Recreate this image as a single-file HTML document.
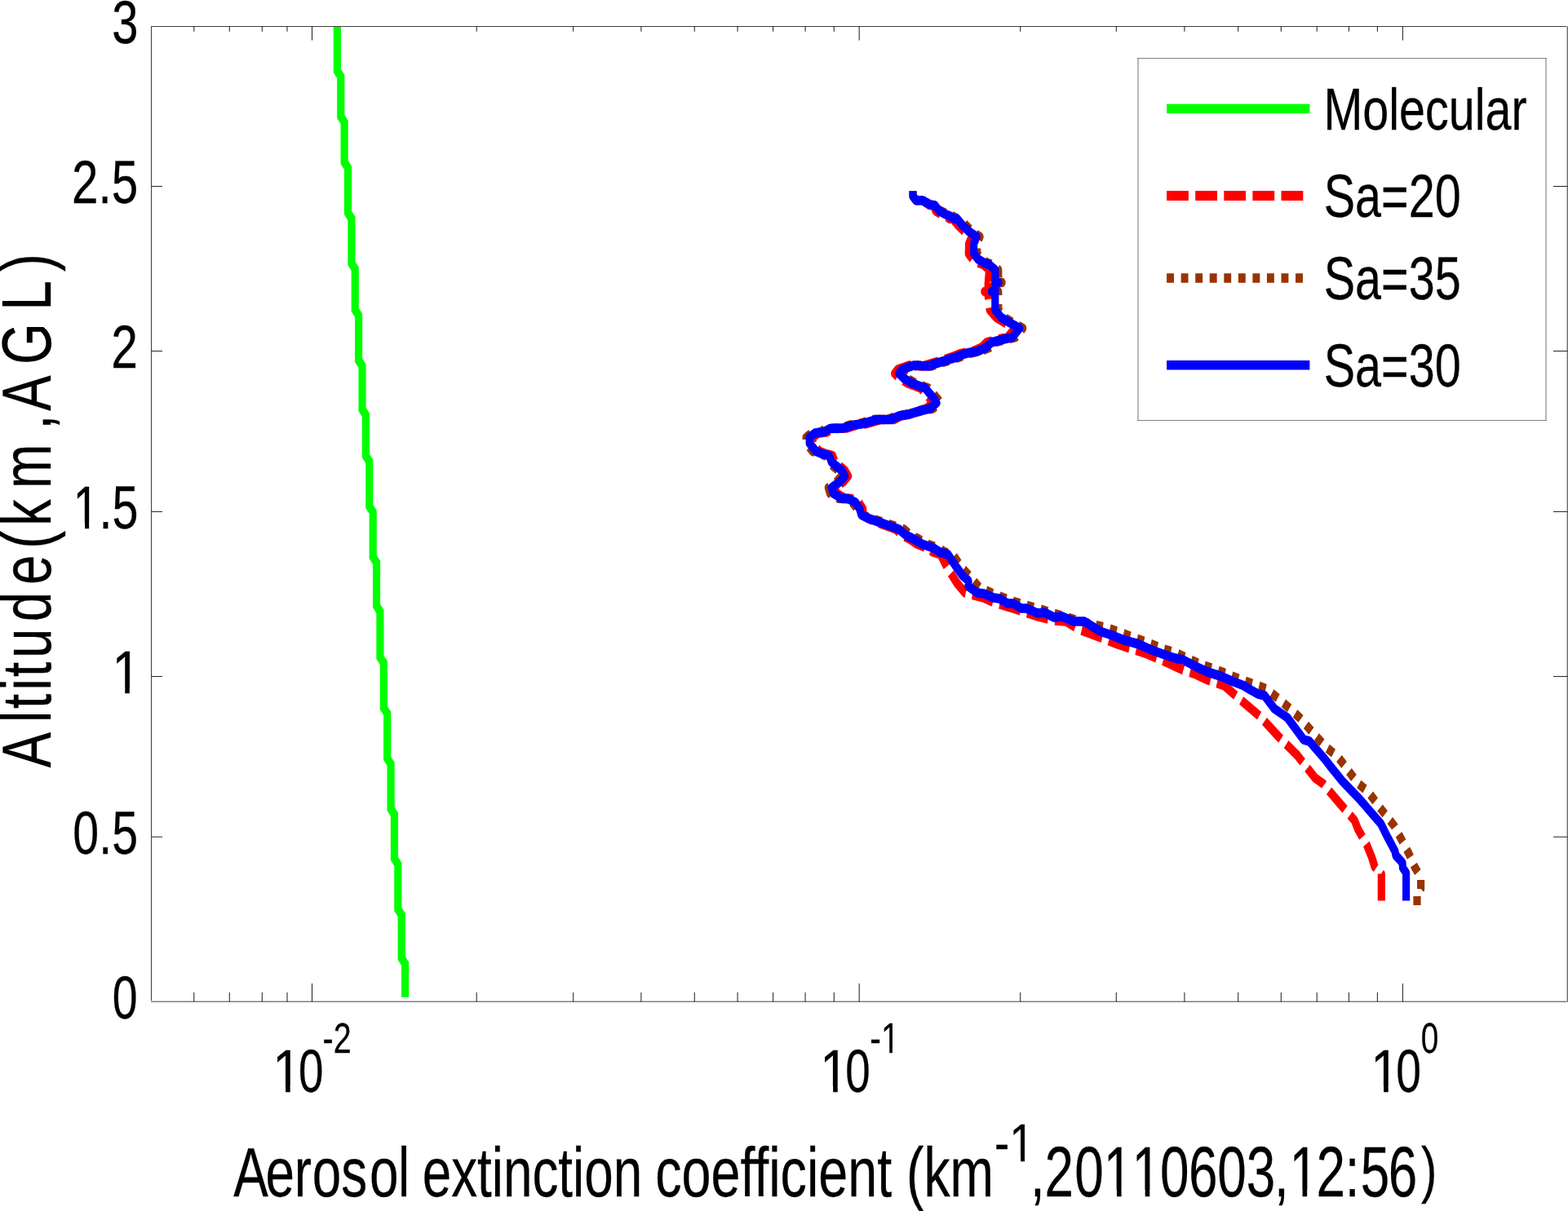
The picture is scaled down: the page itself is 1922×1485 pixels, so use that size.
<!DOCTYPE html>
<html><head><meta charset="utf-8"><title>Aerosol extinction coefficient profile</title>
<style>html,body{margin:0;padding:0;background:#fff;}svg{display:block;}</style>
</head><body>
<svg width="1922" height="1485" viewBox="0 0 1922 1485">
<rect x="0" y="0" width="1922" height="1485" fill="#ffffff"/>
<g fill="none" stroke-linejoin="round" stroke-linecap="butt">
<g transform="scale(0.79,1)" stroke-width="11.6">
<path d="M523.23,32.00 L523.23,87.00 L528.77,93.90 L528.77,143.00 L534.32,149.90 L534.32,199.00 L539.86,205.90 L539.86,261.00 L545.41,267.90 L545.41,323.00 L550.95,329.90 L550.95,380.00 L556.49,386.90 L556.49,442.00 L562.04,448.90 L562.04,502.00 L567.58,508.90 L567.58,559.00 L573.13,565.90 L573.13,621.00 L578.67,627.90 L578.67,683.00 L584.22,689.90 L584.22,743.00 L589.76,749.90 L589.76,806.00 L595.30,812.90 L595.30,868.00 L600.85,874.90 L600.85,930.00 L606.39,936.90 L606.39,992.00 L611.94,998.90 L611.94,1053.00 L617.48,1059.90 L617.48,1115.00 L623.03,1121.90 L623.03,1175.00 L628.57,1181.90 L628.57,1222.80" stroke="#00ff00" stroke-linejoin="miter"/>
<path d="M2143.42,1104.60 L2143.42,1071.50 L2133.04,1063.10 L2128.99,1052.40 L2120.76,1036.20 L2107.09,1016.80 L2101.65,1006.00 L2083.92,989.90 L2067.59,974.80 L2052.53,960.80 L2040.51,954.00 L2012.66,926.00 L1983.54,903.00 L1955.70,879.00 L1920.25,855.00 L1900.00,841.00 L1874.68,834.00 L1855.70,827.00 L1836.71,822.00 L1815.19,814.00 L1777.22,801.00 L1753.16,795.00 L1734.18,790.00 L1715.19,784.00 L1694.94,778.00 L1674.68,772.00 L1654.43,762.00 L1635.44,761.00 L1611.39,756.00 L1587.34,750.00 L1568.35,745.00 L1543.04,739.00 L1526.58,733.00 L1497.47,727.00 L1484.81,715.00 L1469.62,696.00 L1459.49,680.00 L1447.59,677.00 L1438.73,672.00 L1422.28,667.00 L1411.14,661.00 L1399.24,656.00 L1390.00,649.00 L1372.91,644.00 L1357.41,639.40 L1346.31,635.40 L1339.08,631.30 L1338.99,624.20 L1332.53,616.20 L1321.01,611.60 L1310.89,611.10 L1298.10,605.10 L1295.44,598.00 L1308.23,590.90 L1315.95,583.80 L1310.89,576.80 L1295.44,566.70 L1291.65,558.60 L1281.39,556.60 L1271.27,553.50 L1261.01,543.40 L1261.01,536.40 L1269.87,531.00 L1282.66,530.00 L1292.91,525.50 L1313.42,525.00 L1329.11,521.20 L1344.30,519.50 L1365.82,514.50 L1387.34,514.50 L1398.10,510.00 L1411.39,508.00 L1424.05,504.00 L1437.66,501.00 L1446.77,494.00 L1444.19,490.00 L1428.85,476.00 L1408.53,470.00 L1395.81,464.00 L1388.15,458.00 L1393.15,453.00 L1410.82,448.00 L1432.35,449.00 L1456.33,443.00 L1476.53,438.00 L1489.15,434.00 L1499.25,432.00 L1509.37,431.00 L1523.24,426.00 L1530.76,420.00 L1547.18,416.50 L1563.60,413.50 L1574.50,402.50 L1557.71,395.00 L1545.74,389.30 L1535.62,379.90 L1533.16,362.90 L1533.16,357.50 L1527.59,357.50 L1533.16,357.50 L1533.16,346.40 L1538.61,346.40 L1533.16,346.40 L1535.07,330.90 L1525.53,324.30 L1518.51,322.40 L1509.07,317.70 L1502.86,311.10 L1503.31,298.80 L1507.80,290.40 L1496.65,284.00 L1486.80,276.50 L1478.63,268.30 L1473.82,268.30 L1467.61,265.00 L1459.85,262.50 L1452.19,258.70 L1448.09,251.80 L1441.49,251.20 L1431.65,245.80 L1421.52,245.80 L1416.46,240.50 L1416.46,234.30" stroke="#ff0000" stroke-dasharray="33.5 10.5"/>
<path d="M2198.73,1110.00 L2198.73,1097.00 L2204.56,1090.00 L2204.56,1076.00 L2194.94,1063.00 L2186.20,1047.00 L2174.68,1029.70 L2163.04,1012.50 L2142.66,992.00 L2123.54,971.50 L2106.33,960.00 L2091.14,944.00 L2075.95,928.00 L2056.96,916.00 L2035.44,897.00 L2017.72,881.00 L2000.00,868.00 L1982.28,856.00 L1965.82,845.00 L1945.57,839.00 L1924.05,833.00 L1905.06,827.00 L1883.54,820.00 L1863.29,815.00 L1844.30,808.00 L1822.78,800.00 L1801.27,795.00 L1781.01,788.00 L1759.49,782.00 L1739.24,776.00 L1717.72,770.00 L1696.20,766.00 L1677.22,762.00 L1655.70,757.00 L1634.18,752.00 L1613.92,747.00 L1591.14,742.00 L1569.62,737.00 L1537.97,727.00 L1518.99,720.00 L1506.33,708.00 L1491.14,695.00 L1478.48,680.00 L1465.82,677.00 L1455.70,672.00 L1437.97,667.00 L1425.32,661.00 L1412.66,656.00 L1402.53,649.00 L1384.42,644.00 L1366.17,639.40 L1350.56,635.40 L1338.46,631.30 L1330.53,624.20 L1322.41,616.20 L1310.89,611.60 L1300.76,611.10 L1287.97,605.10 L1285.32,598.00 L1298.10,590.90 L1305.82,583.80 L1300.76,576.80 L1285.32,566.70 L1281.52,558.60 L1271.27,556.60 L1261.14,553.50 L1250.89,543.40 L1250.89,536.40 L1259.75,531.00 L1272.53,530.00 L1282.78,525.50 L1303.29,525.00 L1318.99,521.20 L1334.18,519.50 L1355.70,514.50 L1377.22,514.50 L1391.56,510.00 L1408.44,508.00 L1428.27,504.00 L1447.26,501.00 L1458.23,494.00 L1455.70,490.00 L1440.51,476.00 L1420.25,470.00 L1407.59,464.00 L1400.00,458.00 L1405.06,453.00 L1422.78,448.00 L1444.30,449.00 L1468.35,443.00 L1488.61,438.00 L1501.27,434.00 L1511.39,432.00 L1521.52,431.00 L1535.44,426.00 L1543.04,420.00 L1559.49,416.50 L1575.95,413.50 L1586.96,402.50 L1570.25,395.00 L1558.35,389.30 L1549.11,379.90 L1549.11,362.90 L1549.11,357.50 L1543.54,357.50 L1549.11,357.50 L1549.11,346.40 L1554.56,346.40 L1549.11,346.40 L1549.11,330.90 L1539.24,324.30 L1532.15,322.40 L1522.53,317.70 L1516.08,311.10 L1516.08,298.80 L1520.25,290.40 L1508.86,284.00 L1498.73,276.50 L1490.25,268.30 L1485.44,268.30 L1478.27,265.00 L1469.72,262.50 L1459.66,258.70 L1450.89,251.80 L1443.88,251.20 L1431.65,245.80 L1421.52,245.80 L1416.46,240.50 L1416.46,234.30" stroke="#993300" stroke-dasharray="11 11"/>
<path d="M2181.77,1104.60 L2181.77,1070.20 L2176.58,1064.20 L2175.95,1057.80 L2165.82,1049.00 L2164.43,1043.70 L2153.54,1027.60 L2142.66,1010.30 L2109.87,980.20 L2083.54,958.60 L2064.56,940.00 L2055.70,931.00 L2031.65,909.00 L2022.78,907.00 L1997.47,880.00 L1977.22,869.00 L1962.03,853.00 L1951.90,851.00 L1940.51,846.00 L1929.11,840.50 L1913.92,836.00 L1893.67,829.00 L1873.42,824.00 L1854.43,817.00 L1835.44,809.00 L1822.78,807.00 L1803.80,802.00 L1783.54,796.00 L1767.09,790.00 L1744.30,785.00 L1725.32,779.00 L1706.33,774.00 L1698.73,770.00 L1682.28,762.00 L1665.82,762.00 L1648.10,756.00 L1635.44,757.00 L1620.25,751.00 L1610.13,752.00 L1592.41,746.00 L1584.81,746.00 L1572.15,740.00 L1563.29,740.00 L1550.63,734.00 L1541.77,733.00 L1526.58,728.00 L1516.46,727.00 L1502.53,719.00 L1502.53,712.00 L1493.67,706.00 L1481.01,692.00 L1470.89,680.00 L1458.23,677.00 L1448.10,672.00 L1430.38,667.00 L1417.72,661.00 L1405.06,656.00 L1394.94,649.00 L1377.22,644.00 L1360.76,639.40 L1346.71,635.40 L1336.46,631.30 L1333.92,624.20 L1327.47,616.20 L1315.95,611.60 L1305.82,611.10 L1293.04,605.10 L1290.38,598.00 L1303.16,590.90 L1310.89,583.80 L1305.82,576.80 L1290.38,566.70 L1286.58,558.60 L1276.33,556.60 L1266.20,553.50 L1255.95,543.40 L1255.95,536.40 L1264.81,531.00 L1277.59,530.00 L1287.85,525.50 L1308.35,525.00 L1324.05,521.20 L1339.24,519.50 L1360.76,514.50 L1382.28,514.50 L1394.94,510.00 L1410.13,508.00 L1426.58,504.00 L1443.04,501.00 L1453.16,494.00 L1450.63,490.00 L1435.44,476.00 L1415.19,470.00 L1402.53,464.00 L1394.94,458.00 L1400.00,453.00 L1417.72,448.00 L1439.24,449.00 L1463.29,443.00 L1483.54,438.00 L1496.20,434.00 L1506.33,432.00 L1516.46,431.00 L1530.38,426.00 L1537.97,420.00 L1554.43,416.50 L1570.89,413.50 L1581.90,402.50 L1565.19,395.00 L1553.29,389.30 L1544.05,379.90 L1544.05,362.90 L1544.05,357.50 L1538.48,357.50 L1544.05,357.50 L1544.05,346.40 L1549.49,346.40 L1544.05,346.40 L1544.05,330.90 L1534.18,324.30 L1527.09,322.40 L1517.47,317.70 L1511.01,311.10 L1511.01,298.80 L1515.19,290.40 L1503.80,284.00 L1493.67,276.50 L1485.19,268.30 L1480.38,268.30 L1474.05,265.00 L1466.20,262.50 L1457.22,258.70 L1450.38,251.80 L1443.54,251.20 L1431.65,245.80 L1421.52,245.80 L1416.46,240.50 L1416.46,234.30" stroke="#0000ff"/>
</g></g>
<g shape-rendering="crispEdges">
<rect x="185" y="32" width="1" height="1197" fill="#3c3c3c"/>
<rect x="185" y="32" width="1737" height="1" fill="#3c3c3c"/>
<rect x="185" y="1227" width="1737" height="1" fill="#c4c4c4"/>
<rect x="185" y="1228" width="1737" height="1" fill="#7a7a7a"/>
<rect x="1920" y="32" width="1" height="1197" fill="#c0c0c0"/>
<rect x="1921" y="32" width="1" height="1197" fill="#6e6e6e"/>
</g>
<path d="M185.5,228.5 H199 M1904,228.5 H1921.5 M185.5,430.5 H199 M1904,430.5 H1921.5 M185.5,627.5 H199 M1904,627.5 H1921.5 M185.5,829.5 H199 M1904,829.5 H1921.5 M185.5,1026.2 H199 M1904,1026.2 H1921.5 M382.5,1228.5 V1206 M382.5,32 V49.4 M1053.2,1228.5 V1206 M1053.2,32 V49.4 M1719.4,1228.5 V1206 M1719.4,32 V49.4 M237.8,1228.5 V1217.1 M237.8,32 V38.7 M281.3,1228.5 V1217.1 M281.3,32 V38.7 M321.3,1228.5 V1217.1 M321.3,32 V38.7 M352.0,1228.5 V1217.1 M352.0,32 V38.7 M584.2,1228.5 V1217.1 M584.2,32 V38.7 M702.7,1228.5 V1217.1 M702.7,32 V38.7 M785.9,1228.5 V1217.1 M785.9,32 V38.7 M851.3,1228.5 V1217.1 M851.3,32 V38.7 M904.1,1228.5 V1217.1 M904.1,32 V38.7 M947.6,1228.5 V1217.1 M947.6,32 V38.7 M987.1,1228.5 V1217.1 M987.1,32 V38.7 M1022.3,1228.5 V1217.1 M1022.3,32 V38.7 M1250.7,1228.5 V1217.1 M1250.7,32 V38.7 M1368.3,1228.5 V1217.1 M1368.3,32 V38.7 M1451.9,1228.5 V1217.1 M1451.9,32 V38.7 M1517.7,1228.5 V1217.1 M1517.7,32 V38.7 M1570.3,1228.5 V1217.1 M1570.3,32 V38.7 M1614.2,1228.5 V1217.1 M1614.2,32 V38.7 M1653.4,1228.5 V1217.1 M1653.4,32 V38.7 M1688.4,1228.5 V1217.1 M1688.4,32 V38.7" stroke="#262626" stroke-width="1.05" fill="none"/>
<rect x="1395" y="71.5" width="500" height="444" fill="#ffffff" stroke="none"/>
<g shape-rendering="crispEdges">
<rect x="1394" y="71" width="2" height="445" fill="#b8b8b8"/>
<rect x="1894" y="71" width="2" height="445" fill="#b8b8b8"/>
<rect x="1394" y="71" width="502" height="1" fill="#808080"/>
<rect x="1394" y="515" width="502" height="1" fill="#808080"/>
</g>
<g stroke-linecap="butt" fill="none">
<path d="M1430.1,133.2 H1605.4" stroke="#00ff00" stroke-width="11.5"/>
<path d="M1430.1,240 H1605.4" stroke="#ff0000" stroke-width="11.8" stroke-dasharray="26.8 8.3"/>
<path d="M1430.1,341 H1605.4" stroke="#993300" stroke-width="11.4" stroke-dasharray="8.9 8.65"/>
<path d="M1430.1,447.7 H1605.4" stroke="#0000ff" stroke-width="11.4"/>
</g>
<mask id="nofoot" maskUnits="userSpaceOnUse" x="0" y="0" width="1922" height="1485"><rect x="0" y="0" width="1922" height="1485" fill="#ffffff"/><path d="M135.87,843.50 L153.21,843.50 L153.21,852.35 L135.87,852.35 Z M158.82,843.50 L170.94,843.50 L170.94,852.35 L158.82,852.35 Z M88.43,641.50 L104.07,641.50 L104.07,650.35 L88.43,650.35 Z M109.13,641.50 L120.05,641.50 L120.05,650.35 L109.13,650.35 Z M332.72,1332.20 L350.07,1332.20 L350.07,1341.05 L332.72,1341.05 Z M355.68,1332.20 L367.79,1332.20 L367.79,1341.05 L355.68,1341.05 Z M1003.82,1332.20 L1021.16,1332.20 L1021.16,1341.05 L1003.82,1341.05 Z M1026.77,1332.20 L1038.89,1332.20 L1038.89,1341.05 L1026.77,1341.05 Z M1079.15,1286.22 L1090.28,1286.22 L1090.28,1292.36 L1079.15,1292.36 Z M1093.88,1286.22 L1101.66,1286.22 L1101.66,1292.36 L1093.88,1292.36 Z M1678.78,1332.20 L1696.12,1332.20 L1696.12,1341.05 L1678.78,1341.05 Z M1701.73,1332.20 L1713.84,1332.20 L1713.84,1341.05 L1701.73,1341.05 Z M1236.20,1417.97 L1251.15,1417.97 L1251.15,1425.52 L1236.20,1425.52 Z M1255.99,1417.97 L1266.44,1417.97 L1266.44,1425.52 L1255.99,1425.52 Z M1351.59,1459.34 L1368.96,1459.34 L1368.96,1469.61 L1351.59,1469.61 Z M1374.58,1459.34 L1386.72,1459.34 L1386.72,1469.61 L1374.58,1469.61 Z M1386.29,1459.34 L1403.66,1459.34 L1403.66,1469.61 L1386.29,1469.61 Z M1409.28,1459.34 L1421.41,1459.34 L1421.41,1469.61 L1409.28,1469.61 Z M1579.19,1459.34 L1596.56,1459.34 L1596.56,1469.61 L1579.19,1469.61 Z M1602.18,1459.34 L1614.32,1459.34 L1614.32,1469.61 L1602.18,1469.61 Z" fill="#000000"/></mask>
<g font-family='"Liberation Sans", Arial, Helvetica, sans-serif' fill="#000000" stroke="#000000" stroke-width="0.3" mask="url(#nofoot)">
<text transform="translate(1622.45,159.10) scale(0.7875,1)" font-size="73">Molecular</text>
<text transform="translate(1622.72,265.70) scale(0.7670,1)" font-size="75">Sa=20</text>
<text transform="translate(1622.72,367.00) scale(0.7670,1)" font-size="75">Sa=35</text>
<text transform="translate(1622.72,473.70) scale(0.7670,1)" font-size="75">Sa=30</text>
<text transform="translate(137.78,1248.60) scale(0.7389,1)" font-size="75">0</text>
<text transform="translate(89.36,1046.80) scale(0.7639,1)" font-size="75">0.5</text>
<text class="one" transform="translate(137.15,850.10) scale(0.8500,1)" font-size="75">1</text>
<text class="one" transform="translate(89.58,648.10) scale(0.7666,1)" font-size="75">1.5</text>
<text transform="translate(136.17,451.40) scale(0.7826,1)" font-size="75">2</text>
<text transform="translate(87.98,249.10) scale(0.7785,1)" font-size="75">2.5</text>
<text transform="translate(137.29,53.00) scale(0.7716,1)" font-size="75">3</text>
<text class="one" transform="translate(334.00,1338.80) scale(0.8500,1)" font-size="75">1</text>
<text transform="translate(365.91,1338.80) scale(0.7306,1)" font-size="75">0</text>
<text transform="translate(395.62,1290.80) scale(0.7572,1)" font-size="52">-2</text>
<text class="one" transform="translate(1005.10,1338.80) scale(0.8500,1)" font-size="75">1</text>
<text transform="translate(1036.31,1338.80) scale(0.7306,1)" font-size="75">0</text>
<text class="one" transform="translate(1066.36,1290.80) scale(0.7869,1)" font-size="52">-1</text>
<text class="one" transform="translate(1680.05,1338.80) scale(0.8500,1)" font-size="75">1</text>
<text transform="translate(1711.29,1338.80) scale(0.7361,1)" font-size="75">0</text>
<text transform="translate(1741.75,1290.80) scale(0.7452,1)" font-size="52">0</text>
<text transform="translate(0,1467.00) scale(0.7460,1)" x="383.78 436.39 483.43 513.20 560.57 607.30 654.20" y="0" font-size="85.5">Aerosol</text>
<text transform="translate(517.75,1467.00) scale(0.7460,1)" font-size="85.5">extinction</text>
<text transform="translate(803.21,1467.00) scale(0.7565,1)" font-size="85.5">coefficient</text>
<text transform="translate(1111.05,1467.00) scale(0.7504,1)" font-size="85.5">(km</text>
<text class="one" transform="translate(1219.00,1423.60) scale(0.8590,1)" font-size="64">-1</text>
<text class="one" transform="translate(0,1467.00) scale(0.7340,1)" x="1720.78 1744.42 1794.61 1843.15 1890.42 1937.39 1984.89 2033.03 2081.40 2128.00 2153.23 2198.37 2246.26 2272.13 2318.54" y="0" font-size="87">,20110603,12:56</text>
<text transform="translate(1742.12,1459.60) scale(0.7622,1)" font-size="76.2">)</text>
<text transform="translate(61.80,941.62) rotate(-90) scale(0.7600,1)" font-size="86">A</text>
<text transform="translate(61.80,886.27) rotate(-90) scale(0.7600,1)" font-size="86">l</text>
<text transform="translate(61.80,869.00) rotate(-90) scale(0.7600,1)" font-size="86">t</text>
<text transform="translate(61.80,846.57) rotate(-90) scale(0.7600,1)" font-size="86">i</text>
<text transform="translate(61.80,829.95) rotate(-90) scale(0.7600,1)" font-size="86">t</text>
<text transform="translate(61.80,806.97) rotate(-90) scale(0.7600,1)" font-size="86">u</text>
<text transform="translate(61.80,762.17) rotate(-90) scale(0.7600,1)" font-size="86">d</text>
<text transform="translate(61.80,716.97) rotate(-90) scale(0.7600,1)" font-size="86">e</text>
<text transform="translate(61.80,672.72) rotate(-90) scale(0.7600,1)" font-size="86">(</text>
<text transform="translate(61.80,645.03) rotate(-90) scale(0.7600,1)" font-size="86">k</text>
<text transform="translate(61.80,599.00) rotate(-90) scale(0.7600,1)" font-size="86">m</text>
<text transform="translate(61.80,526.85) rotate(-90) scale(0.7600,1)" font-size="86">,</text>
<text transform="translate(61.80,504.07) rotate(-90) scale(0.7600,1)" font-size="86">A</text>
<text transform="translate(61.80,447.01) rotate(-90) scale(0.7600,1)" font-size="86">G</text>
<text transform="translate(61.80,380.61) rotate(-90) scale(0.7600,1)" font-size="86">L</text>
<text transform="translate(61.80,333.05) rotate(-90) scale(0.7600,1)" font-size="86">)</text>
</g>
</svg>
</body></html>
